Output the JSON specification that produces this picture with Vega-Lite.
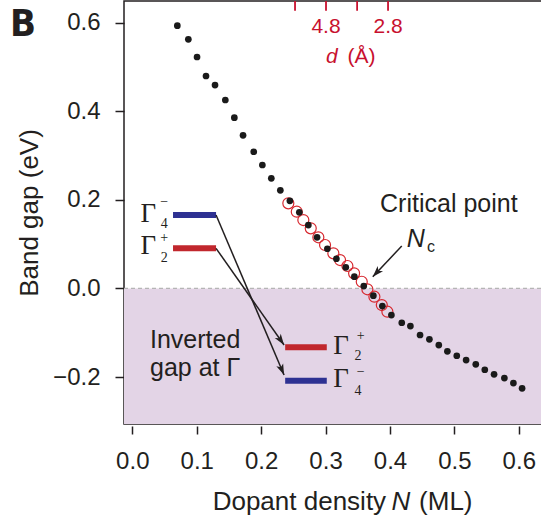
{
  "$schema": "https://vega.github.io/schema/vega-lite/v6.json",
  "width": 418,
  "height": 423,
  "autosize": {"type": "none"},
  "padding": {"left": 124, "top": 1, "right": 0, "bottom": 97},
  "background": "white",
  "config": {
    "font": "Liberation Sans",
    "view": {"stroke": "#231f20", "strokeWidth": 1.5},
    "axis": {"grid": false},
    "text": {"font": "Liberation Sans", "color": "#231f20"}
  },
  "data": {"values": [{}]},
  "datasets": {
    "dots": [
      {"N": 0.0699, "gap": 0.5932}, {"N": 0.0870, "gap": 0.5625}, {"N": 0.1005, "gap": 0.5226},
      {"N": 0.1144, "gap": 0.4797}, {"N": 0.1284, "gap": 0.4593}, {"N": 0.1444, "gap": 0.4255},
      {"N": 0.1584, "gap": 0.3855}, {"N": 0.1719, "gap": 0.3458}, {"N": 0.1885, "gap": 0.3087},
      {"N": 0.2019, "gap": 0.2787}, {"N": 0.2158, "gap": 0.2487}, {"N": 0.2298, "gap": 0.2216},
      {"N": 0.2446, "gap": 0.1979}, {"N": 0.2593, "gap": 0.1719}, {"N": 0.2733, "gap": 0.1432},
      {"N": 0.2868, "gap": 0.1155}, {"N": 0.3028, "gap": 0.0897}, {"N": 0.3168, "gap": 0.0671},
      {"N": 0.3314, "gap": 0.0477}, {"N": 0.3447, "gap": 0.0265}, {"N": 0.3593, "gap": 0.0055},
      {"N": 0.3742, "gap": -0.0164}, {"N": 0.3882, "gap": -0.0397}, {"N": 0.4022, "gap": -0.0600},
      {"N": 0.4183, "gap": -0.0774}, {"N": 0.4317, "gap": -0.0848}, {"N": 0.4467, "gap": -0.1051},
      {"N": 0.4612, "gap": -0.1148}, {"N": 0.4758, "gap": -0.1277}, {"N": 0.4891, "gap": -0.1419},
      {"N": 0.5037, "gap": -0.1519}, {"N": 0.5182, "gap": -0.1616}, {"N": 0.5332, "gap": -0.1713},
      {"N": 0.5472, "gap": -0.1835}, {"N": 0.5616, "gap": -0.1939}, {"N": 0.5776, "gap": -0.2022},
      {"N": 0.5916, "gap": -0.2135}, {"N": 0.6051, "gap": -0.2255}
    ],
    "circles": [
      {"N": 0.2422, "gap": 0.1922}, {"N": 0.2553, "gap": 0.1733}, {"N": 0.2655, "gap": 0.1545},
      {"N": 0.2770, "gap": 0.1358}, {"N": 0.2888, "gap": 0.1155}, {"N": 0.2992, "gap": 0.0981},
      {"N": 0.3121, "gap": 0.0793}, {"N": 0.3225, "gap": 0.0642}, {"N": 0.3339, "gap": 0.0507},
      {"N": 0.3443, "gap": 0.0342}, {"N": 0.3562, "gap": 0.0152}, {"N": 0.3649, "gap": -0.0019},
      {"N": 0.3758, "gap": -0.0186}, {"N": 0.3873, "gap": -0.0374}, {"N": 0.3960, "gap": -0.0525}
    ],
    "dticks": [
      {"N": 0.2526, "d": ""}, {"N": 0.3007, "d": "4.8"}, {"N": 0.3490, "d": ""}, {"N": 0.3970, "d": "2.8"}
    ],
    "levels": [
      {"state": "G4", "N": 0.0632, "N2": 0.1300, "gap": 0.1658},
      {"state": "G2", "N": 0.0632, "N2": 0.1300, "gap": 0.0906},
      {"state": "G2", "N": 0.2373, "N2": 0.3019, "gap": -0.1329},
      {"state": "G4", "N": 0.2373, "N2": 0.3019, "gap": -0.2083}
    ],
    "arrows": [
      {"N": 0.1300, "gap": 0.1658, "N2": 0.2356, "gap2": -0.1954},
      {"N": 0.1300, "gap": 0.0906, "N2": 0.2356, "gap2": -0.1277},
      {"N": 0.4183, "gap": 0.0958, "N2": 0.3733, "gap2": 0.0265}
    ]
  },
  "layer": [
    {
      "mark": {"type": "rect", "color": "#e3d4e6"},
      "encoding": {
        "x": {"datum": -0.0129, "type": "quantitative"},
        "x2": {"datum": 0.636},
        "y": {"datum": 0, "type": "quantitative"},
        "y2": {"datum": -0.306}
      }
    },
    {
      "mark": {"type": "rule", "color": "#b5b5b5", "strokeDash": [4, 3], "strokeWidth": 1.2},
      "encoding": {
        "x": {"datum": -0.0129, "type": "quantitative"},
        "x2": {"datum": 0.636},
        "y": {"datum": 0, "type": "quantitative"}
      }
    },
    {
      "data": {"name": "dticks"},
      "mark": {"type": "rule", "color": "#c8102e", "strokeWidth": 1.8},
      "encoding": {
        "x": {"field": "N", "type": "quantitative"},
        "y": {"datum": 0.649, "type": "quantitative"},
        "y2": {"datum": 0.627}
      }
    },
    {
      "data": {"name": "dticks"},
      "mark": {"type": "text", "color": "#c8102e", "fontSize": 21, "align": "center", "baseline": "alphabetic"},
      "encoding": {
        "x": {"field": "N", "type": "quantitative"},
        "y": {"datum": 0.5761, "type": "quantitative"},
        "text": {"field": "d"}
      }
    },
    {
      "mark": {"type": "text", "color": "#c8102e", "fontSize": 21, "fontStyle": "italic", "align": "left", "baseline": "alphabetic", "text": "d"},
      "encoding": {
        "x": {"datum": 0.3008, "type": "quantitative"},
        "y": {"datum": 0.5083, "type": "quantitative"}
      }
    },
    {
      "mark": {"type": "text", "color": "#c8102e", "fontSize": 21, "align": "left", "baseline": "alphabetic", "text": "(Å)"},
      "encoding": {
        "x": {"datum": 0.3339, "type": "quantitative"},
        "y": {"datum": 0.5083, "type": "quantitative"}
      }
    },
    {
      "data": {"name": "levels"},
      "mark": {"type": "rule", "strokeWidth": 6, "strokeCap": "butt"},
      "encoding": {
        "x": {"field": "N", "type": "quantitative"},
        "x2": {"field": "N2"},
        "y": {"field": "gap", "type": "quantitative"},
        "color": {"field": "state", "type": "nominal", "scale": {"domain": ["G4", "G2"], "range": ["#2e3192", "#c1272d"]}, "legend": null}
      }
    },
    {
      "data": {"name": "arrows"},
      "mark": {"type": "rule", "color": "#231f20", "strokeWidth": 1.5},
      "encoding": {
        "x": {"field": "N", "type": "quantitative"},
        "x2": {"field": "N2"},
        "y": {"field": "gap", "type": "quantitative"},
        "y2": {"field": "gap2"}
      }
    },
    {
      "mark": {"type": "point", "filled": true, "color": "#231f20", "opacity": 1, "size": 340, "shape": "M0,0 L0.4,1.2 L0,0.9 L-0.4,1.2 Z", "angle": 157},
      "encoding": {
        "x": {"datum": 0.2356, "type": "quantitative"},
        "y": {"datum": -0.1954, "type": "quantitative"}
      }
    },
    {
      "mark": {"type": "point", "filled": true, "color": "#231f20", "opacity": 1, "size": 340, "shape": "M0,0 L0.4,1.2 L0,0.9 L-0.4,1.2 Z", "angle": 145},
      "encoding": {
        "x": {"datum": 0.2356, "type": "quantitative"},
        "y": {"datum": -0.1277, "type": "quantitative"}
      }
    },
    {
      "mark": {"type": "point", "filled": true, "color": "#231f20", "opacity": 1, "size": 340, "shape": "M0,0 L0.4,1.2 L0,0.9 L-0.4,1.2 Z", "angle": 223},
      "encoding": {
        "x": {"datum": 0.3733, "type": "quantitative"},
        "y": {"datum": 0.0265, "type": "quantitative"}
      }
    },
    {
      "data": {"name": "circles"},
      "mark": {"type": "point", "filled": false, "stroke": "#d7282f", "strokeWidth": 1.2, "size": 121, "opacity": 1},
      "encoding": {
        "x": {"field": "N", "type": "quantitative"},
        "y": {"field": "gap", "type": "quantitative"}
      }
    },
    {
      "data": {"name": "dots"},
      "mark": {"type": "point", "filled": true, "color": "#1a1a1a", "size": 45, "opacity": 1},
      "encoding": {
        "x": {
          "field": "N", "type": "quantitative",
          "scale": {"domain": [-0.0129, 0.636], "nice": false, "zero": false},
          "axis": {"orient": "bottom", "values": [0, 0.1, 0.2, 0.3, 0.4, 0.5, 0.6], "format": ".1f", "domain": false, "offset": 2, "tickSize": 8, "tickWidth": 1.5, "tickColor": "#231f20", "labelFontSize": 24, "labelColor": "#231f20", "labelPadding": 15, "title": null}
        },
        "y": {
          "field": "gap", "type": "quantitative",
          "scale": {"domain": [-0.306, 0.649], "nice": false, "zero": false},
          "axis": {"orient": "left", "values": [-0.2, 0, 0.2, 0.4, 0.6], "format": ".1f", "domain": false, "tickSize": 9, "tickWidth": 1.5, "tickColor": "#231f20", "labelFontSize": 24, "labelColor": "#231f20", "labelPadding": 15, "title": "Band gap (eV)", "titleFontSize": 26, "titleFontWeight": "normal", "titleColor": "#231f20", "titlePadding": 10}
        }
      }
    },
    {
      "mark": {"type": "text", "fontSize": 25, "align": "left", "baseline": "alphabetic", "text": "Critical point"},
      "encoding": {
        "x": {"datum": 0.3846, "type": "quantitative"},
        "y": {"datum": 0.1726, "type": "quantitative"}
      }
    },
    {
      "mark": {"type": "text", "fontSize": 25, "fontStyle": "italic", "align": "left", "baseline": "alphabetic", "text": "N"},
      "encoding": {
        "x": {"datum": 0.4261, "type": "quantitative"},
        "y": {"datum": 0.0942, "type": "quantitative"}
      }
    },
    {
      "mark": {"type": "text", "fontSize": 16, "align": "left", "baseline": "alphabetic", "text": "c"},
      "encoding": {
        "x": {"datum": 0.4576, "type": "quantitative"},
        "y": {"datum": 0.0823, "type": "quantitative"}
      }
    },
    {
      "mark": {"type": "text", "fontSize": 25, "align": "left", "baseline": "alphabetic", "lineHeight": 27.5, "text": ["Inverted", "gap at Γ"]},
      "encoding": {
        "x": {"datum": 0.0275, "type": "quantitative"},
        "y": {"datum": -0.1352, "type": "quantitative"}
      }
    },
    {
      "mark": {"type": "text", "font": "Liberation Serif", "fontSize": 27, "align": "center", "baseline": "alphabetic", "text": "Γ"},
      "encoding": {
        "x": {"datum": 0.0248, "type": "quantitative"},
        "y": {"datum": 0.1507, "type": "quantitative"}
      }
    },
    {
      "mark": {"type": "text", "font": "Liberation Serif", "fontSize": 14, "align": "center", "baseline": "middle", "text": "−"},
      "encoding": {
        "x": {"datum": 0.0495, "type": "quantitative"},
        "y": {"datum": 0.1958, "type": "quantitative"}
      }
    },
    {
      "mark": {"type": "text", "font": "Liberation Serif", "fontSize": 14, "align": "center", "baseline": "alphabetic", "text": "4"},
      "encoding": {
        "x": {"datum": 0.0495, "type": "quantitative"},
        "y": {"datum": 0.1365, "type": "quantitative"}
      }
    },
    {
      "mark": {"type": "text", "font": "Liberation Serif", "fontSize": 27, "align": "center", "baseline": "alphabetic", "text": "Γ"},
      "encoding": {
        "x": {"datum": 0.0248, "type": "quantitative"},
        "y": {"datum": 0.0771, "type": "quantitative"}
      }
    },
    {
      "mark": {"type": "text", "font": "Liberation Serif", "fontSize": 14, "align": "center", "baseline": "middle", "text": "+"},
      "encoding": {
        "x": {"datum": 0.0495, "type": "quantitative"},
        "y": {"datum": 0.1145, "type": "quantitative"}
      }
    },
    {
      "mark": {"type": "text", "font": "Liberation Serif", "fontSize": 14, "align": "center", "baseline": "alphabetic", "text": "2"},
      "encoding": {
        "x": {"datum": 0.0495, "type": "quantitative"},
        "y": {"datum": 0.0604, "type": "quantitative"}
      }
    },
    {
      "mark": {"type": "text", "font": "Liberation Serif", "fontSize": 27, "align": "center", "baseline": "alphabetic", "text": "Γ"},
      "encoding": {
        "x": {"datum": 0.3241, "type": "quantitative"},
        "y": {"datum": -0.1487, "type": "quantitative"}
      }
    },
    {
      "mark": {"type": "text", "font": "Liberation Serif", "fontSize": 14, "align": "center", "baseline": "middle", "text": "+"},
      "encoding": {
        "x": {"datum": 0.3545, "type": "quantitative"},
        "y": {"datum": -0.1067, "type": "quantitative"}
      }
    },
    {
      "mark": {"type": "text", "font": "Liberation Serif", "fontSize": 14, "align": "center", "baseline": "alphabetic", "text": "2"},
      "encoding": {
        "x": {"datum": 0.3505, "type": "quantitative"},
        "y": {"datum": -0.1625, "type": "quantitative"}
      }
    },
    {
      "mark": {"type": "text", "font": "Liberation Serif", "fontSize": 27, "align": "center", "baseline": "alphabetic", "text": "Γ"},
      "encoding": {
        "x": {"datum": 0.3241, "type": "quantitative"},
        "y": {"datum": -0.2219, "type": "quantitative"}
      }
    },
    {
      "mark": {"type": "text", "font": "Liberation Serif", "fontSize": 14, "align": "center", "baseline": "middle", "text": "−"},
      "encoding": {
        "x": {"datum": 0.3545, "type": "quantitative"},
        "y": {"datum": -0.1875, "type": "quantitative"}
      }
    },
    {
      "mark": {"type": "text", "font": "Liberation Serif", "fontSize": 14, "align": "center", "baseline": "alphabetic", "text": "4"},
      "encoding": {
        "x": {"datum": 0.3505, "type": "quantitative"},
        "y": {"datum": -0.2406, "type": "quantitative"}
      }
    },
    {
      "mark": {"type": "text", "fontSize": 26, "align": "right", "baseline": "alphabetic", "text": "Dopant density"},
      "encoding": {
        "x": {"datum": 0.394, "type": "quantitative"},
        "y": {"datum": -0.5003, "type": "quantitative"}
      }
    },
    {
      "mark": {"type": "text", "fontSize": 26, "fontStyle": "italic", "align": "left", "baseline": "alphabetic", "text": "N"},
      "encoding": {
        "x": {"datum": 0.4022, "type": "quantitative"},
        "y": {"datum": -0.5003, "type": "quantitative"}
      }
    },
    {
      "mark": {"type": "text", "fontSize": 26, "align": "left", "baseline": "alphabetic", "text": "(ML)"},
      "encoding": {
        "x": {"datum": 0.4452, "type": "quantitative"},
        "y": {"datum": -0.5003, "type": "quantitative"}
      }
    },
    {
      "mark": {"type": "text", "font": "Liberation Sans Narrow, DejaVu Sans Condensed, Liberation Sans", "fontSize": 38, "fontWeight": "bold", "align": "center", "baseline": "alphabetic", "text": "B"},
      "encoding": {
        "x": {"datum": -0.1697, "type": "quantitative"},
        "y": {"datum": 0.570, "type": "quantitative"}
      }
    }
  ]
}
